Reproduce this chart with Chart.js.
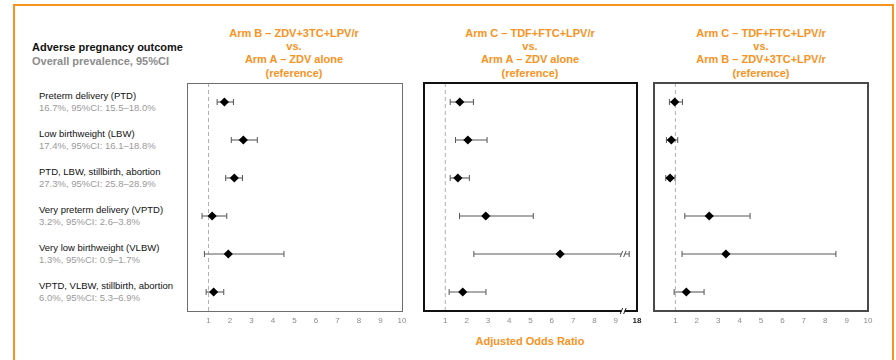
<!DOCTYPE html>
<html>
<head>
<meta charset="utf-8">
<script src="https://cdn.jsdelivr.net/npm/chart.js@4/dist/chart.umd.min.js"></script>
<style>
  html, body { margin: 0; padding: 0; background: #fff; }
  body { width: 896px; height: 360px; position: relative; overflow: hidden; font-family: "Liberation Sans", Arial, sans-serif; }
  .frame { position: absolute; left: 13px; top: 4px; width: 877px; height: 400px; border-top: 2px solid #F7931E; border-left: 2px solid #F7931E; border-right: 2px solid #F7931E; }
  .txt { position: absolute; white-space: nowrap; }
  .hdr { position: absolute; width: 260px; text-align: center; color: #F7931E; font-weight: bold; font-size: 11px; line-height: 13.4px; }
  .panel { position: absolute; }
</style>
</head>
<body>
<div class="frame"></div>
<div class="txt" style="left:32px;top:40px;font-size:11px;line-height:14px;font-weight:bold;color:#111;">Adverse pregnancy outcome</div>
<div class="txt" style="left:32px;top:53.5px;font-size:11px;line-height:14px;font-weight:bold;color:#8c8c8c;">Overall prevalence, 95%CI</div>
<div id="labels"></div>
<div id="headers"></div>
<div class="txt" id="xtitle" style="left:430px;width:200px;text-align:center;top:334px;font-size:11px;line-height:14px;font-weight:bold;color:#F7931E;"></div>
<div class="panel" style="left:177px;top:78px;"><canvas id="c1" width="235" height="255"></canvas></div>
<div class="panel" style="left:414px;top:78px;"><canvas id="c2" width="233" height="255"></canvas></div>
<div class="panel" style="left:644px;top:78px;"><canvas id="c3" width="234" height="255"></canvas></div>
<script>
// ---------- data ----------
const categories = [
  "Preterm delivery (PTD)",
  "Low birthweight (LBW)",
  "PTD, LBW, stillbirth, abortion",
  "Very preterm delivery (VPTD)",
  "Very low birthweight (VLBW)",
  "VPTD, VLBW, stillbirth, abortion"
];
const prevalence = [
  "16.7%, 95%CI: 15.5–18.0%",
  "17.4%, 95%CI: 16.1–18.8%",
  "27.3%, 95%CI: 25.8–28.9%",
  "3.2%, 95%CI: 2.6–3.8%",
  "1.3%, 95%CI: 0.9–1.7%",
  "6.0%, 95%CI: 5.3–6.9%"
];
const panelTitles = [
  ["Arm B – ZDV+3TC+LPV/r", "vs.", "Arm A – ZDV alone", "(reference)"],
  ["Arm C – TDF+FTC+LPV/r", "vs.", "Arm A – ZDV alone", "(reference)"],
  ["Arm C – TDF+FTC+LPV/r", "vs.", "Arm B – ZDV+3TC+LPV/r", "(reference)"]
];
const axisTitle = "Adjusted Odds Ratio";

// Arm B vs Arm A
const bVsA_or = [1.74, 2.62, 2.20, 1.17, 1.92, 1.24];
const bVsA_lo = [1.40, 2.06, 1.80, 0.70, 0.81, 0.89];
const bVsA_hi = [2.16, 3.27, 2.58, 1.85, 4.51, 1.71];
// Arm C vs Arm A
const cVsA_or = [1.68, 2.06, 1.59, 2.90, 6.39, 1.82];
const cVsA_lo = [1.23, 1.48, 1.23, 1.67, 2.34, 1.18];
const cVsA_hi = [2.32, 2.96, 2.13, 5.13, 13.1, 2.91];
// Arm C vs Arm B
const cVsB_or = [0.97, 0.81, 0.75, 2.58, 3.36, 1.51];
const cVsB_lo = [0.72, 0.58, 0.55, 1.44, 1.31, 0.94];
const cVsB_hi = [1.33, 1.11, 0.98, 4.49, 8.50, 2.34];

const tickLabelsStd = ["", "1", "2", "3", "4", "5", "6", "7", "8", "9", "10"];
const tickLabelsBroken = ["", "1", "2", "3", "4", "5", "6", "7", "8", "9", "18"];
const referenceOR = 1;

// ---------- text ----------
const ORANGE = "#F7931E";
const rowY = [102, 140, 178, 216, 254, 292];
const labelsDiv = document.getElementById("labels");
categories.forEach((c, i) => {
  const a = document.createElement("div");
  a.className = "txt";
  a.style.cssText = `left:39px;top:${rowY[i] - 5.8 - 6}px;font-size:9.5px;line-height:12px;color:#111;`;
  a.textContent = c;
  labelsDiv.appendChild(a);
  const b = document.createElement("div");
  b.className = "txt";
  b.style.cssText = `left:39px;top:${rowY[i] + 5.8 - 6}px;font-size:9.5px;line-height:12px;color:#9a9a9a;`;
  b.textContent = prevalence[i];
  labelsDiv.appendChild(b);
});
const panelCenters = [294, 530, 761];
const hdrDiv = document.getElementById("headers");
panelTitles.forEach((lines, p) => {
  const d = document.createElement("div");
  d.className = "hdr";
  d.style.left = (panelCenters[p] - 130) + "px";
  d.style.top = "26.6px";
  d.innerHTML = lines.map(s => s.replace(/&/g, "&amp;").replace(/</g, "&lt;")).join("<br>");
  hdrDiv.appendChild(d);
});
document.getElementById("xtitle").textContent = axisTitle;

// ---------- charts ----------
const BREAK_AT = 9.35;     // display position of axis break (panel 2)
const BREAK_TOP = 18;      // value shown at the right end after the break
function brokenPos(v) {
  return v <= BREAK_AT ? v : BREAK_AT + (v - BREAK_AT) * (10 - BREAK_AT) / (BREAK_TOP - BREAK_AT);
}

function boxPlugin(color, width, broken) {
  return {
    id: "box",
    afterDatasetsDraw(chart) {
      const { ctx, chartArea: a, scales } = chart;
      ctx.save();
      ctx.strokeStyle = color;
      ctx.lineWidth = width;
      const off = width % 2 === 1 ? 0.5 : 0;
      ctx.strokeRect(Math.round(a.left) + off, Math.round(a.top) + off,
                     Math.round(a.right - a.left), Math.round(a.bottom - a.top));
      if (broken) {
        const xp = scales.x.getPixelForValue(BREAK_AT);
        const drawBreak = (y, lw, col) => {
          ctx.fillStyle = "#fff";
          ctx.fillRect(xp - 1.5, y - 3, 3, 6);
          ctx.strokeStyle = col;
          ctx.lineWidth = lw;
          ctx.beginPath();
          ctx.moveTo(xp - 3, y + 3); ctx.lineTo(xp - 0.5, y - 3);
          ctx.moveTo(xp + 0.5, y + 3); ctx.lineTo(xp + 3, y - 3);
          ctx.stroke();
        };
        drawBreak(scales.y.getPixelForValue(5), 1, "#555");
        drawBreak(Math.round(a.bottom), 1, "#222");
      }
      ctx.restore();
    }
  };
}

function makeChart(id, or, lo, hi, tickLabels, boxColor, boxWidth, broken) {
  const pos = broken ? brokenPos : (v => v);
  const datasets = [];
  datasets.push({
    type: "line",
    data: [{ x: referenceOR, y: 0.5 }, { x: referenceOR, y: 6.5 }],
    borderColor: "#b0b0b0",
    borderWidth: 1,
    borderDash: [4, 3],
    pointRadius: 0,
    order: 5
  });
  or.forEach((v, i) => {
    datasets.push({
      type: "line",
      data: [{ x: pos(lo[i]), y: i + 1 }, { x: pos(hi[i]), y: i + 1 }],
      borderColor: "#8f8f8f",
      borderWidth: 1.6,
      pointStyle: "line",
      pointRotation: 90,
      pointRadius: 3,
      pointBorderColor: "#555",
      pointBorderWidth: 1,
      order: 3
    });
  });
  datasets.push({
    type: "scatter",
    data: or.map((v, i) => ({ x: pos(v), y: i + 1 })),
    pointStyle: "rectRot",
    pointRadius: 4.6,
    backgroundColor: "#000",
    borderColor: "#000",
    borderWidth: 0,
    order: 1
  });
  return new Chart(document.getElementById(id), {
    type: "scatter",
    data: { datasets },
    options: {
      responsive: false,
      animation: false,
      devicePixelRatio: 1,
      layout: { padding: { left: 10, right: 10, top: 5, bottom: 0 } },
      plugins: { legend: { display: false }, tooltip: { enabled: false } },
      scales: {
        x: {
          type: "linear",
          min: 0, max: 10,
          grid: { display: false, drawTicks: false },
          border: { display: false },
          afterFit(scale) { scale.height = 22; },
          ticks: {
            stepSize: 1,
            padding: 5,
            autoSkip: false,
            maxRotation: 0,
            font: ctx => ({ family: "'Liberation Sans', Arial, sans-serif", size: 8,
                            weight: (broken && ctx.tick && ctx.tick.value === 10) ? "bold" : "normal" }),
            color: ctx => (broken && ctx.tick && ctx.tick.value === 10) ? "#222" : "#8a8a8a",
            callback: v => tickLabels[Math.round(v)] ?? ""
          }
        },
        y: {
          type: "linear",
          display: false,
          min: 0.5, max: 6.5,
          reverse: true
        }
      }
    },
    plugins: [boxPlugin(boxColor, boxWidth, broken)]
  });
}

makeChart("c1", bVsA_or, bVsA_lo, bVsA_hi, tickLabelsStd, "#6e6e6e", 1, false);
makeChart("c2", cVsA_or, cVsA_lo, cVsA_hi, tickLabelsBroken, "#111111", 2, true);
makeChart("c3", cVsB_or, cVsB_lo, cVsB_hi, tickLabelsStd, "#4a4a4a", 2, false);
</script>
</body>
</html>
